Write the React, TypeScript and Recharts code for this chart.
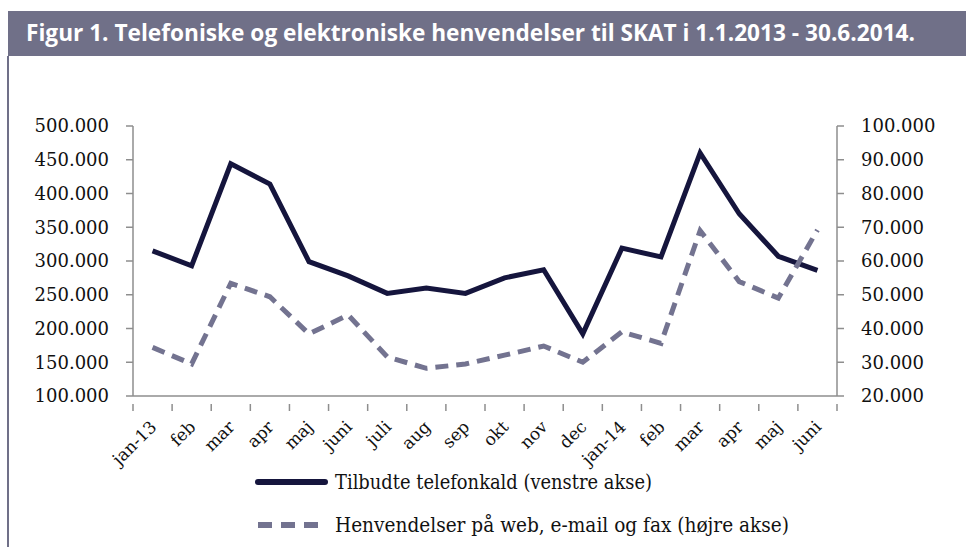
import React from "react";
import { LineChart, Line, XAxis, YAxis } from "recharts";

const months = ["jan-13", "feb", "mar", "apr", "maj", "juni", "juli", "aug", "sep", "okt", "nov", "dec", "jan-14", "feb", "mar", "apr", "maj", "juni"];
const telefon = [315000, 293000, 444000, 414000, 299000, 278000, 252000, 260000, 252000, 275000, 287000, 192000, 319000, 306000, 460000, 370000, 307000, 286000];
const webMailFax = [34400, 29500, 53400, 49400, 38400, 44000, 31600, 28200, 29500, 32100, 34800, 30000, 39000, 35600, 69000, 53900, 49000, 69200];
const leftTicks = [100000, 150000, 200000, 250000, 300000, 350000, 400000, 450000, 500000];
const rightTicks = [20000, 30000, 40000, 50000, 60000, 70000, 80000, 90000, 100000];

const data = months.map((m, i) => ({ key: i, month: m, telefon: telefon[i], web: webMailFax[i] }));

const fmt = (v: number) => {
    const s = Math.round(v).toString();
    return s.replace(/\B(?=(\d{3})+(?!\d))/g, ".");
};

const DARK = "#15153d";
const GREY = "#737390";
const AXIS = "#8e8e8e";
const serif = "'DejaVu Serif', serif";

const PLOT_W = 704;
const HALF = PLOT_W / months.length / 2;

const MonthTick = (props: any) => {
    const { x, y, payload, index } = props;
    const label = months[payload.value] ?? "";
    const ax = x + 5;
    const ay = y + 24;
    return (
        <g>
            <line x1={x - HALF} y1={y} x2={x - HALF} y2={y + 7} stroke={AXIS} strokeWidth={1.5} />
            {index === months.length - 1 && (
                <line x1={x + HALF} y1={y} x2={x + HALF} y2={y + 7} stroke={AXIS} strokeWidth={1.5} />
            )}
            <text
                x={ax}
                y={ay}
                textAnchor="end"
                transform={`rotate(-45, ${ax}, ${ay})`}
                fontFamily={serif}
                fontSize={17}
                fill="#111"
            >
                {label}
            </text>
        </g>
    );
};

export default function App() {
    return (
        <div style={{ position: "absolute", left: 0, top: 0, width: 966, height: 547, background: "#fff", overflow: "hidden" }}>
            <div style={{ position: "absolute", left: 8, top: 11, width: 958, height: 45, background: "#707088" }} />
            <div style={{ position: "absolute", left: 7, top: 56, width: 2, height: 491, background: "#707088" }} />
            <svg style={{ position: "absolute", left: 0, top: 0 }} width={966} height={80}>
                <text
                    x={26}
                    y={41}
                    textLength={889}
                    lengthAdjust="spacingAndGlyphs"
                    fontFamily="'Open Sans', sans-serif"
                    fontWeight={700}
                    fontSize={22.5}
                    fill="#fff"
                >
                    Figur 1. Telefoniske og elektroniske henvendelser til SKAT i 1.1.2013 - 30.6.2014.
                </text>
            </svg>

            <div style={{ position: "absolute", left: 0, top: 0 }}>
                <LineChart width={966} height={547} data={data} margin={{ top: 126, right: 0, bottom: 81, left: 0 }}>
                    <XAxis
                        dataKey="key"
                        interval={0}
                        padding={{ left: HALF, right: HALF }}
                        stroke={AXIS}
                        strokeWidth={1.5}
                        tickLine={false}
                        height={70}
                        tick={<MonthTick />}
                    />
                    <YAxis
                        yAxisId="left"
                        width={133}
                        domain={[100000, 500000]}
                        ticks={leftTicks}
                        tickFormatter={fmt}
                        stroke={AXIS}
                        strokeWidth={1.5}
                        tickSize={7}
                        tickMargin={17}
                        tick={{ fill: "#111", fontFamily: serif, fontSize: 18 }}
                    />
                    <YAxis
                        yAxisId="right"
                        orientation="right"
                        width={129}
                        domain={[20000, 100000]}
                        ticks={rightTicks}
                        tickFormatter={fmt}
                        stroke={AXIS}
                        strokeWidth={1.5}
                        tickSize={7}
                        tickMargin={17}
                        tick={{ fill: "#111", fontFamily: serif, fontSize: 18 }}
                    />
                    <Line yAxisId="left" dataKey="telefon" stroke={DARK} strokeWidth={5} dot={false} isAnimationActive={false} />
                    <Line yAxisId="right" dataKey="web" stroke={GREY} strokeWidth={5} strokeDasharray="13 8" dot={false} isAnimationActive={false} />
                </LineChart>
            </div>

            <svg style={{ position: "absolute", left: 0, top: 0 }} width={966} height={547}>
                <line x1={258} y1={482} x2={325} y2={482} stroke={DARK} strokeWidth={6} strokeLinecap="round" />
                <text x={335} y={489} textLength={317} lengthAdjust="spacingAndGlyphs" fontFamily={serif} fontSize={20} fill="#111">
                    Tilbudte telefonkald (venstre akse)
                </text>
                <line x1={258} y1={525} x2={318} y2={525} stroke={GREY} strokeWidth={6} strokeDasharray="14 9" strokeLinecap="butt" />
                <text x={335} y={532} textLength={454} lengthAdjust="spacingAndGlyphs" fontFamily={serif} fontSize={20} fill="#111">
                    Henvendelser på web, e-mail og fax (højre akse)
                </text>
            </svg>
        </div>
    );
}
